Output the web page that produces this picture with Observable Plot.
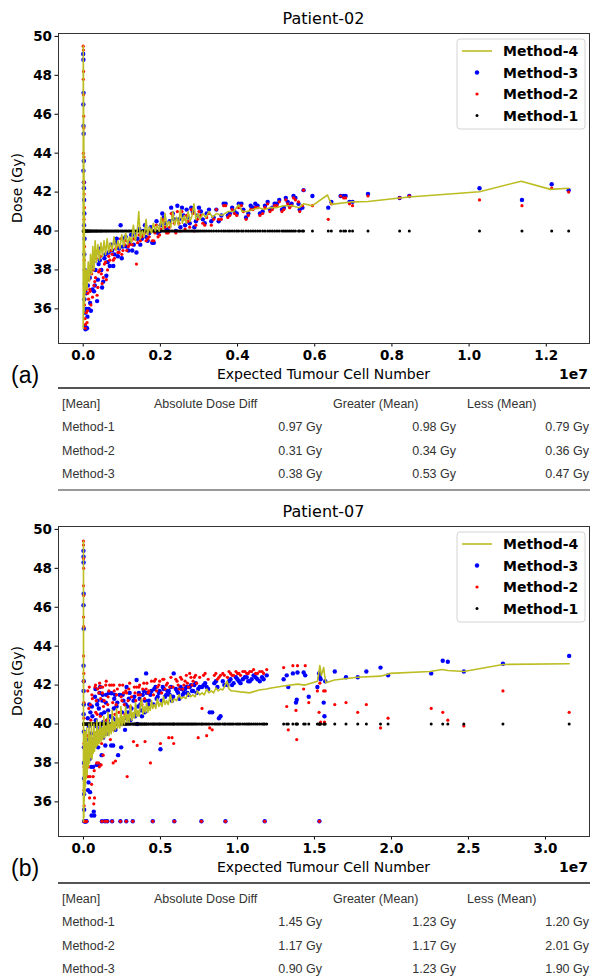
<!DOCTYPE html>
<html>
<head>
<meta charset="utf-8">
<script src="https://cdn.jsdelivr.net/npm/d3@7"></script>
<script src="https://cdn.jsdelivr.net/npm/@observablehq/plot@0.6"></script>
<style>
  html, body { margin: 0; padding: 0; background: #fff; }
  body { width: 593px; height: 978px; position: relative; overflow: hidden; font-family: "DejaVu Sans", sans-serif; }
  .panel { position: absolute; left: 0; width: 593px; }
  .tbl { position: absolute; left: 0; width: 593px; height: 110px; font-family: "Liberation Sans", Arial, sans-serif; font-size: 12.5px; color: #333; }
  .tbl span { position: absolute; white-space: nowrap; transform: translateY(-50%); line-height: 1; }
  .tbl .rule { position: absolute; left: 58px; width: 532px; }
</style>
</head>
<body>
<div id="panelA" class="panel" style="top:0px"></div>
<div id="tableA" class="tbl" style="top:388px"></div>
<div id="panelB" class="panel" style="top:494px"></div>
<div id="tableB" class="tbl" style="top:883px"></div>
<script>
// ---- Patient-02: expected tumour cell number (units of 1e7) and dose (Gy) per method ----
const p02Cells = [
  0.0000, 0.0005, 0.0010, 0.0003, 0.0008, 0.0012, 0.0015, 0.0006, 0.0018, 0.0020,
  0.0025, 0.0030, 0.0022, 0.0035, 0.0028, 0.0040, 0.0045, 0.0032, 0.0050, 0.0055,
  0.0060, 0.0100, 0.0080, 0.012, 0.015, 0.018, 0.022, 0.026, 0.030, 0.034,
  0.036, 0.040, 0.045, 0.049, 0.055, 0.060, 0.066, 0.072, 0.078, 0.084,
  0.090, 0.097, 0.103, 0.110, 0.117, 0.124, 0.131, 0.138, 0.145, 0.152,
  0.160, 0.167, 0.175, 0.183, 0.190, 0.198, 0.205, 0.212, 0.220, 0.228,
  0.236, 0.244, 0.252, 0.260, 0.268, 0.276, 0.284, 0.292, 0.300, 0.310,
  0.320, 0.332, 0.345, 0.358, 0.369, 0.380, 0.392, 0.403, 0.415, 0.428,
  0.440, 0.452, 0.465, 0.478, 0.490, 0.502, 0.515, 0.525, 0.535, 0.545,
  0.550, 0.558, 0.561, 0.568, 0.571, 0.594, 0.635, 0.643, 0.667, 0.675,
  0.680, 0.690, 0.698, 0.738, 0.820, 0.845, 1.027, 1.137, 1.214, 1.258,
  0.008, 0.011, 0.014, 0.017, 0.020, 0.024, 0.028, 0.032, 0.038, 0.043,
  0.047, 0.052, 0.058, 0.063, 0.069, 0.075, 0.081, 0.087, 0.093, 0.100,
  0.107, 0.113, 0.120, 0.127, 0.134, 0.141, 0.148, 0.156, 0.163, 0.171,
  0.179, 0.186, 0.194, 0.201, 0.209, 0.216, 0.224, 0.232, 0.240, 0.248,
  0.256, 0.264, 0.272, 0.280, 0.288, 0.296, 0.305, 0.315, 0.326, 0.338,
  0.351, 0.364, 0.375, 0.386, 0.398, 0.410, 0.422, 0.434, 0.446, 0.458,
  0.471, 0.484, 0.496, 0.508, 0.520, 0.530, 0.540
];
const p02Method3 = [
  49.1, 48.8, 47.1, 46.5, 45.4, 45.0, 43.6, 43.1, 42.5, 42.2,
  41.6, 40.9, 40.3, 39.6, 38.8, 38.0, 37.3, 36.5, 35.8, 35.1,
  34.95, 35.0, 36.0, 37.2, 37.9, 36.3, 38.2, 38.4, 37.2, 38.9,
  36.4, 38.3, 39.1, 37.1, 38.6, 37.7, 38.9, 39.3, 38.2, 39.4,
  38.7, 40.3, 39.2, 39.7, 39.0, 39.8, 39.3, 38.9, 40.1, 39.6,
  40.3, 39.5, 40.2, 39.4, 40.5, 40.0, 40.9, 40.4, 40.0, 41.2,
  40.6, 41.3, 40.2, 40.8, 41.1, 40.4, 41.0, 40.5, 41.2, 40.6,
  40.9, 40.5, 41.1, 40.8, 41.4, 40.9, 41.0, 41.4, 41.1, 40.9,
  41.2, 41.3, 41.0, 41.5, 41.2, 41.4, 41.1, 41.7, 41.3, 41.8,
  41.7, 41.4, 41.1, 41.2, 42.1, 41.8, 41.2, 41.5, 41.8, 41.8,
  41.8, 41.5, 41.5, 41.9, 41.7, 41.8, 42.2, 41.6, 42.4, 42.1,
  36.8, 35.6, 36.0, 37.6, 35.9, 37.0, 36.9, 38.0, 37.5, 38.5,
  38.0, 37.4, 38.8, 38.4, 38.2, 39.0, 38.8, 39.6, 39.1, 38.6,
  39.6, 39.2, 39.4, 39.0, 39.8, 39.6, 39.3, 40.0, 39.7, 39.9,
  39.4, 40.0, 39.9, 40.3, 40.7, 40.1, 40.5, 40.9, 40.0, 40.6,
  41.2, 40.3, 40.7, 41.2, 40.2, 40.8, 41.0, 40.4, 41.1, 40.7,
  40.5, 41.4, 40.8, 41.2, 40.9, 41.4, 40.7, 41.3, 41.4, 40.9,
  41.3, 41.1, 41.4, 41.6, 41.2, 41.5, 41.4
];
const p02Method2 = [
  49.5, 49.3, 48.2, 47.8, 47.0, 45.9, 45.3, 44.0, 43.8, 42.5,
  41.9, 41.2, 40.6, 39.2, 38.5, 37.6, 37.0, 36.2, 35.5, 35.0,
  35.2, 35.3, 35.8, 36.8, 37.5, 36.9, 37.8, 38.0, 37.4, 38.6,
  36.7, 37.9, 38.7, 37.3, 38.3, 37.5, 38.7, 39.0, 38.5, 39.1,
  38.9, 39.6, 39.0, 39.5, 39.2, 39.5, 39.6, 38.3, 39.8, 39.7,
  39.9, 39.6, 40.0, 39.5, 40.3, 39.8, 40.6, 40.2, 39.9, 40.9,
  40.4, 41.0, 40.0, 40.6, 40.8, 40.2, 40.9, 40.3, 41.0, 40.4,
  40.7, 40.3, 41.1, 40.6, 41.3, 40.8, 40.9, 41.2, 41.0, 40.8,
  41.1, 41.2, 40.9, 41.4, 41.1, 41.3, 41.0, 41.6, 41.2, 41.7,
  41.6, 41.5, 41.0, 41.3, 42.1, 41.3, 40.6, 41.4, 41.8, 41.7,
  41.7, 41.4, 41.3, 41.8, 41.7, 41.8, 41.6, 41.3, 42.2, 42.0,
  37.0, 35.9, 36.5, 37.0, 36.2, 36.6, 37.2, 37.6, 37.1, 38.0,
  37.8, 37.6, 38.4, 38.0, 38.5, 38.8, 38.6, 39.2, 38.9, 38.8,
  39.3, 39.0, 39.3, 39.3, 39.6, 39.4, 39.5, 39.8, 39.5, 39.7,
  39.5, 39.9, 39.7, 40.1, 40.5, 39.9, 40.2, 40.8, 39.9, 40.4,
  41.0, 40.1, 40.5, 41.1, 40.0, 40.6, 40.8, 40.3, 40.9, 40.6,
  40.6, 41.3, 40.7, 41.1, 40.8, 41.3, 40.6, 41.1, 41.2, 40.8,
  41.2, 41.0, 41.3, 41.5, 41.1, 41.4, 41.3
];
const p02Method1 = [
  40, 40, 40, 40, 40, 40, 40, 40, 40, 40,
  40, 40, 40, 40, 40, 40, 40, 40, 40, 40,
  40, 40, 40, 40, 40, 40, 40, 40, 40, 40,
  40, 40, 40, 40, 40, 40, 40, 40, 40, 40,
  40, 40, 40, 40, 40, 40, 40, 40, 40, 40,
  40, 40, 40, 40, 40, 40, 40, 40, 40, 40,
  40, 40, 40, 40, 40, 40, 40, 40, 40, 40,
  40, 40, 40, 40, 40, 40, 40, 40, 40, 40,
  40, 40, 40, 40, 40, 40, 40, 40, 40, 40,
  40, 40, 40, 40, 40, 40, 40, 40, 40, 40,
  40, 40, 40, 40, 40, 40, 40, 40, 40, 40,
  40, 40, 40, 40, 40, 40, 40, 40, 40, 40,
  40, 40, 40, 40, 40, 40, 40, 40, 40, 40,
  40, 40, 40, 40, 40, 40, 40, 40, 40, 40,
  40, 40, 40, 40, 40, 40, 40, 40, 40, 40,
  40, 40, 40, 40, 40, 40, 40, 40, 40, 40,
  40, 40, 40, 40, 40, 40, 40, 40, 40, 40,
  40, 40, 40, 40, 40, 40, 40
];
// Method-4 curve, ordered by cell number
const p02LineCells = [
  0.0000, 0.0002, 0.0004, 0.0006, 0.0008, 0.0010, 0.0013, 0.0016, 0.0019, 0.0022,
  0.0026, 0.0030, 0.0035, 0.0040, 0.005, 0.008, 0.010, 0.013, 0.016, 0.019,
  0.022, 0.025, 0.028, 0.031, 0.034, 0.038, 0.042, 0.046, 0.050, 0.054,
  0.058, 0.062, 0.066, 0.070, 0.075, 0.080, 0.085, 0.090, 0.095, 0.100,
  0.105, 0.110, 0.115, 0.120, 0.125, 0.130, 0.135, 0.140, 0.144, 0.148,
  0.153, 0.158, 0.163, 0.167, 0.172, 0.177, 0.182, 0.187, 0.192, 0.197,
  0.202, 0.207, 0.212, 0.217, 0.222, 0.227, 0.232, 0.237, 0.242, 0.247,
  0.252, 0.257, 0.262, 0.267, 0.272, 0.277, 0.282, 0.287, 0.292, 0.297,
  0.303, 0.310, 0.318, 0.326, 0.335, 0.345, 0.360, 0.375, 0.390, 0.403,
  0.412, 0.425, 0.440, 0.455, 0.470, 0.485, 0.500, 0.520, 0.540, 0.560,
  0.571, 0.594, 0.633, 0.643, 0.698, 0.738, 0.820, 0.845, 1.027, 1.135,
  1.211, 1.258
];
const p02Method4 = [
  35.0, 49.5, 36.0, 48.6, 35.4, 47.2, 36.6, 45.5, 35.8, 43.0,
  36.9, 41.0, 36.3, 39.0, 36.8, 38.0, 37.0, 38.4, 37.4, 38.8,
  37.8, 39.2, 38.0, 39.5, 38.4, 39.3, 38.5, 39.4, 38.7, 39.5,
  38.8, 39.6, 38.9, 39.4, 39.0, 39.7, 39.0, 39.5, 39.1, 39.8,
  39.2, 39.9, 39.3, 39.7, 39.4, 40.3, 39.5, 40.0, 41.0, 39.6,
  40.0, 39.7, 40.6, 39.8, 40.2, 39.9, 40.4, 40.0, 40.3, 40.0,
  40.7, 40.1, 40.9, 40.2, 40.5, 40.2, 41.0, 40.3, 40.7, 40.3,
  41.1, 40.4, 40.8, 40.4, 41.0, 40.5, 40.8, 41.4, 40.6, 40.9,
  40.6, 40.9, 40.7, 41.0, 40.7, 40.9, 40.8, 41.0, 41.0, 41.35,
  41.0, 41.0, 41.1, 41.2, 41.1, 41.2, 41.2, 41.3, 41.3, 41.2,
  41.4, 41.3, 41.85, 41.37, 41.5, 41.52, 41.7, 41.75, 42.02, 42.56,
  42.14, 42.2
];

// ---- Patient-07 ----
const p07Cells = [
  0.0000, 0.0004, 0.0008, 0.0012, 0.0003, 0.0016, 0.0006, 0.0020, 0.0010, 0.0024,
  0.0014, 0.0028, 0.0030, 0.0034, 0.0038, 0.0042, 0.0046, 0.0050, 0.0080, 0.0120,
  0.0160, 0.0200, 0.025, 0.030, 0.035, 0.040, 0.045, 0.050, 0.055, 0.060,
  0.067, 0.070, 0.075, 0.080, 0.086, 0.092, 0.098, 0.100, 0.105, 0.110,
  0.115, 0.120, 0.125, 0.130, 0.140, 0.145, 0.150, 0.155, 0.160, 0.170,
  0.180, 0.186, 0.190, 0.200, 0.208, 0.215, 0.225, 0.235, 0.240, 0.250,
  0.260, 0.270, 0.278, 0.280, 0.284, 0.295, 0.305, 0.320, 0.330, 0.340,
  0.349, 0.360, 0.370, 0.380, 0.392, 0.400, 0.407, 0.420, 0.435, 0.450,
  0.460, 0.475, 0.490, 0.500, 0.515, 0.530, 0.545, 0.560, 0.575, 0.586,
  0.590, 0.600, 0.615, 0.630, 0.645, 0.660, 0.675, 0.690, 0.705, 0.720,
  0.735, 0.745, 0.766, 0.770, 0.790, 0.810, 0.836, 0.850, 0.870, 0.890,
  0.905, 0.922, 0.935, 0.955, 0.975, 0.990, 1.010, 1.035, 1.060, 1.080,
  1.105, 1.130, 1.160, 1.177, 1.300, 1.320, 1.330, 1.360, 1.380, 1.385,
  1.390, 1.430, 1.440, 1.463, 1.519, 1.530, 1.532, 1.535, 1.540, 1.560,
  1.565, 1.570, 1.632, 1.705, 1.781, 1.837, 1.929, 1.978, 2.258, 2.333,
  2.366, 2.470, 2.724, 3.154,
  0.022, 0.028, 0.033, 0.038, 0.043, 0.048, 0.053, 0.058, 0.063, 0.072,
  0.078, 0.083, 0.089, 0.095, 0.103, 0.108, 0.112, 0.118, 0.123, 0.128,
  0.135, 0.142, 0.148, 0.158, 0.165, 0.175, 0.183, 0.193, 0.197, 0.205,
  0.212, 0.220, 0.230, 0.245, 0.255, 0.265, 0.275, 0.290, 0.300, 0.312,
  0.325, 0.335, 0.345, 0.355, 0.365, 0.375, 0.385, 0.397, 0.412, 0.425,
  0.442, 0.455, 0.468, 0.482, 0.495, 0.508, 0.522, 0.538, 0.554, 0.568,
  0.582, 0.608, 0.622, 0.638, 0.652, 0.668, 0.682, 0.698, 0.712, 0.728,
  0.755, 0.780, 0.800, 0.820, 0.860, 0.880, 0.915, 0.945, 0.965, 1.000,
  1.020, 1.048, 1.070, 1.092, 1.118, 1.145, 1.170, 1.190
];
const p07Method3 = [
  48.9, 48.6, 48.3, 46.7, 46.1, 44.9, 43.0, 42.2, 41.7, 41.0,
  40.5, 39.6, 38.8, 38.0, 37.2, 36.4, 35.6, 35.0, 35.0, 35.0,
  35.0, 35.0, 38.4, 36.6, 39.9, 38.2, 40.6, 37.8, 40.9, 39.2,
  35.5, 35.3, 41.4, 40.2, 37.9, 41.2, 39.6, 40.8, 41.6, 39.8,
  40.5, 35.0, 41.5, 40.1, 35.0, 41.1, 39.5, 35.0, 40.7, 41.6,
  38.9, 35.0, 40.3, 41.3, 39.7, 40.9, 38.4, 41.5, 35.0, 40.6,
  41.2, 39.7, 35.0, 41.9, 40.9, 41.3, 40.2, 35.0, 41.4, 40.5,
  40.0, 41.6, 41.0, 40.4, 41.7, 41.2, 42.6, 41.0, 41.5, 35.0,
  41.8, 41.3, 41.6, 38.7, 41.9, 41.4, 41.7, 41.5, 41.2, 42.6,
  35.0, 41.8, 41.6, 41.9, 41.5, 41.8, 41.6, 41.9, 41.7, 42.0,
  41.6, 41.8, 35.0, 41.9, 42.1, 41.8, 40.6, 42.1, 41.9, 40.4,
  42.2, 35.0, 42.0, 42.3, 42.1, 42.4, 42.2, 42.3, 42.4, 42.2,
  42.5, 42.3, 42.4, 35.0, 42.3, 42.5, 41.9, 42.6, 41.1, 41.25,
  42.65, 42.65, 42.5, 41.4, 41.9, 42.6, 35.0, 42.4, 42.3, 41.1,
  40.4, 42.2, 42.7, 42.4, 42.4, 42.7, 42.9, 42.5, 42.6, 43.25,
  43.2, 42.7, 43.1, 43.5,
  39.2, 40.3, 37.0, 41.0, 36.5, 39.5, 35.3, 40.4, 37.8, 39.0,
  41.8, 39.9, 41.0, 38.8, 37.9, 41.9, 40.0, 38.4, 41.2, 39.3,
  40.6, 38.9, 41.5, 40.2, 41.6, 40.4, 41.58, 38.9, 40.8, 41.5,
  40.2, 41.1, 40.0, 38.8, 41.5, 40.3, 41.0, 40.6, 41.6, 40.8,
  41.2, 40.4, 42.26, 40.9, 41.3, 40.7, 41.5, 40.6, 41.6, 41.2,
  41.7, 41.0, 41.9, 41.4, 41.7, 41.2, 41.8, 41.5, 41.7, 41.9,
  41.4, 41.7, 41.3, 41.8, 41.6, 41.9, 41.5, 42.0, 41.7, 42.1,
  41.9, 42.0, 41.9, 40.6, 42.2, 40.3, 42.0, 42.2, 42.0, 42.3,
  42.1, 42.4, 42.2, 42.3, 42.4, 42.2, 42.3, 42.5
];
const p07Method2 = [
  49.4, 49.2, 48.5, 48.0, 47.1, 46.6, 45.5, 45.0, 43.5, 42.6,
  42.2, 41.1, 40.3, 39.0, 37.8, 36.6, 35.8, 35.0, 35.0, 35.0,
  35.0, 35.0, 39.4, 37.3, 40.8, 36.2, 41.0, 38.6, 41.5, 40.0,
  35.9, 37.6, 41.9, 40.6, 38.0, 41.8, 38.0, 41.6, 42.1, 40.4,
  37.9, 35.0, 41.9, 40.9, 35.0, 42.0, 40.2, 35.0, 41.4, 42.0,
  39.7, 35.0, 41.1, 41.7, 38.1, 41.5, 40.0, 42.0, 35.0, 41.2,
  41.6, 40.5, 35.0, 41.6, 37.3, 41.8, 40.9, 35.0, 41.9, 41.2,
  38.9, 41.9, 41.5, 41.0, 42.1, 39.1, 41.8, 41.6, 38.0, 35.0,
  42.2, 41.7, 42.0, 39.0, 42.3, 41.8, 42.1, 41.9, 39.3, 39.0,
  35.0, 42.3, 42.0, 42.4, 41.8, 42.2, 42.1, 42.6, 42.0, 42.4,
  42.1, 39.3, 35.0, 40.8, 42.6, 42.3, 39.7, 42.5, 42.3, 42.5,
  42.6, 35.0, 42.4, 42.6, 42.5, 42.7, 42.6, 42.7, 42.6, 42.7,
  42.8, 42.6, 42.7, 35.0, 42.9, 40.9, 39.7, 43.0, 40.7, 39.2,
  43.0, 41.8, 43.0, 41.1, 41.7, 40.6, 35.0, 42.1, 40.1, 41.7,
  40.1, 41.7, 41.0, 41.1, 40.6, 41.0, 39.8, 40.3, 40.8, 40.6,
  40.2, 39.9, 41.7, 40.6,
  38.4, 41.7, 37.8, 41.9, 37.3, 40.2, 36.9, 41.3, 37.3, 36.2,
  42.0, 41.2, 40.5, 39.4, 37.8, 41.9, 41.3, 39.0, 41.6, 38.4,
  41.2, 39.6, 42.2, 41.0, 41.7, 39.2, 42.0, 38.0, 42.0, 40.5,
  41.0, 41.8, 40.6, 41.4, 42.0, 41.0, 41.7, 41.2, 42.1, 41.4,
  39.1, 41.6, 41.9, 41.5, 42.0, 41.2, 41.8, 41.3, 42.1, 41.7,
  42.2, 41.5, 42.3, 41.9, 42.2, 41.6, 42.3, 42.0, 39.3, 42.4,
  41.9, 42.2, 41.8, 42.3, 42.0, 42.5, 41.9, 42.4, 42.2, 42.5,
  42.4, 42.5, 39.4, 39.8, 42.6, 42.4, 42.5, 42.7, 42.5, 42.6,
  42.5, 42.7, 42.6, 42.7, 42.6, 42.7, 42.6, 42.8
];
const p07Method1 = [
  40, 40, 40, 40, 40, 40, 40, 40, 40, 40,
  40, 40, 40, 40, 40, 40, 40, 40, 40, 40,
  40, 40, 40, 40, 40, 40, 40, 40, 40, 40,
  40, 40, 40, 40, 40, 40, 40, 40, 40, 40,
  40, 40, 40, 40, 40, 40, 40, 40, 40, 40,
  40, 40, 40, 40, 40, 40, 40, 40, 40, 40,
  40, 40, 40, 40, 40, 40, 40, 40, 40, 40,
  40, 40, 40, 40, 40, 40, 40, 40, 40, 40,
  40, 40, 40, 40, 40, 40, 40, 40, 40, 40,
  40, 40, 40, 40, 40, 40, 40, 40, 40, 40,
  40, 40, 40, 40, 40, 40, 40, 40, 40, 40,
  40, 40, 40, 40, 40, 40, 40, 40, 40, 40,
  40, 40, 40, 40, 40, 40, 40, 40, 40, 40,
  40, 40, 40, 40, 40, 40, 40, 40, 40, 40,
  40, 40, 40, 40, 40, 40, 40, 40, 40, 40,
  40, 40, 40, 40,
  40, 40, 40, 40, 40, 40, 40, 40, 40, 40,
  40, 40, 40, 40, 40, 40, 40, 40, 40, 40,
  40, 40, 40, 40, 40, 40, 40, 40, 40, 40,
  40, 40, 40, 40, 40, 40, 40, 40, 40, 40,
  40, 40, 40, 40, 40, 40, 40, 40, 40, 40,
  40, 40, 40, 40, 40, 40, 40, 40, 40, 40,
  40, 40, 40, 40, 40, 40, 40, 40, 40, 40,
  40, 40, 40, 40, 40, 40, 40, 40, 40, 40,
  40, 40, 40, 40, 40, 40, 40, 40
];
const p07LineCells = [
  0.0000, 0.0002, 0.0004, 0.0007, 0.0010, 0.0014, 0.0018, 0.0024, 0.0030, 0.0040,
  0.0050, 0.0070, 0.0090, 0.0110, 0.0130, 0.0150, 0.018, 0.021, 0.024, 0.028,
  0.032, 0.036, 0.040, 0.044, 0.048, 0.052, 0.056, 0.060, 0.064, 0.068,
  0.072, 0.077, 0.082, 0.087, 0.092, 0.097, 0.102, 0.108, 0.114, 0.120,
  0.126, 0.132, 0.138, 0.145, 0.152, 0.159, 0.166, 0.173, 0.180, 0.187,
  0.194, 0.201, 0.208, 0.215, 0.222, 0.229, 0.236, 0.243, 0.250, 0.258,
  0.266, 0.274, 0.282, 0.290, 0.298, 0.306, 0.314, 0.322, 0.330, 0.338,
  0.346, 0.354, 0.362, 0.370, 0.378, 0.386, 0.394, 0.402, 0.410, 0.418,
  0.426, 0.434, 0.442, 0.450, 0.460, 0.470, 0.480, 0.490, 0.500, 0.510,
  0.520, 0.530, 0.540, 0.550, 0.565, 0.575, 0.590, 0.605, 0.620, 0.635,
  0.650, 0.665, 0.680, 0.695, 0.710, 0.725, 0.740, 0.755, 0.770, 0.785,
  0.800, 0.815, 0.830, 0.845, 0.860, 0.875, 0.890, 0.905, 0.920, 0.933,
  0.945, 0.960, 0.976, 1.020, 1.080, 1.140, 1.190, 1.210, 1.300, 1.390,
  1.440, 1.520, 1.535, 1.545, 1.560, 1.565, 1.575, 1.630, 1.780, 1.930,
  1.990, 2.250, 2.330, 2.366, 2.470, 2.724, 3.154
];
const p07Method4 = [
  35.0, 49.4, 44.7, 45.2, 36.0, 40.0, 35.5, 38.5, 35.2, 39.5,
  36.0, 38.8, 36.4, 39.6, 36.8, 38.6, 37.2, 39.8, 37.4, 39.0,
  37.8, 40.0, 38.0, 39.4, 38.3, 40.1, 38.2, 39.2, 38.5, 40.0,
  38.6, 39.6, 38.8, 40.2, 38.9, 39.7, 39.0, 40.1, 39.1, 39.8,
  39.2, 40.4, 39.3, 39.9, 39.4, 40.6, 39.4, 40.0, 39.5, 40.7,
  39.6, 40.1, 39.7, 40.8, 39.8, 40.3, 39.8, 40.9, 39.9, 40.4,
  40.0, 40.9, 40.1, 40.5, 40.1, 41.0, 40.2, 40.6, 40.3, 41.1,
  40.4, 40.7, 40.4, 41.0, 41.3, 40.5, 40.9, 40.6, 41.1, 40.6,
  40.9, 40.7, 41.2, 40.8, 41.0, 40.8, 41.3, 40.9, 41.1, 40.9,
  41.4, 41.0, 41.2, 41.0, 41.5, 41.1, 41.3, 41.2, 41.5, 41.3,
  41.4, 41.3, 41.6, 41.4, 41.5, 41.4, 41.7, 41.5, 41.6, 41.5,
  41.8, 41.6, 41.7, 41.6, 41.85, 41.7, 41.8, 41.75, 42.0, 42.2,
  41.8, 41.7, 41.7, 41.65, 41.6, 41.75, 41.8, 41.84, 41.95, 42.05,
  42.0, 42.2, 43.0, 42.5, 42.9, 42.55, 42.12, 42.26, 42.4, 42.46,
  42.6, 42.7, 42.8, 42.75, 42.7, 43.06, 43.1
];

// ---- summary tables ----
const summaryColumns = ["[Mean]", "Absolute Dose Diff", "Greater (Mean)", "Less (Mean)"];
const summaryMethods = ["Method-1", "Method-2", "Method-3"];
const p02AbsDiff = [0.97, 0.31, 0.38];
const p02Greater = [0.98, 0.34, 0.53];
const p02Less = [0.79, 0.36, 0.47];
const p07AbsDiff = [1.45, 1.17, 0.90];
const p07Greater = [1.23, 1.17, 1.23];
const p07Less = [1.20, 2.01, 1.90];

const doseTicks = [36, 38, 40, 42, 44, 46, 48, 50];
const p02CellTicks = [0, 0.2, 0.4, 0.6, 0.8, 1.0, 1.2];
const p07CellTicks = [0, 0.5, 1.0, 1.5, 2.0, 2.5, 3.0];

const methodStyles = [
  {label: "Method-4", kind: "line", color: "#bcbd22"},
  {label: "Method-3", kind: "dot", color: "blue", r: 2.2},
  {label: "Method-2", kind: "dot", color: "red", r: 1.6},
  {label: "Method-1", kind: "dot", color: "black", r: 1.5}
];

function drawPanel(cfg) {
  const W = 593, H = 392, FT = cfg.frameTop, FH = 310, ML = 58, MR = 4;
  const pts = cfg.cells.map((c, i) => ({c, m1: cfg.m1[i], m2: cfg.m2[i], m3: cfg.m3[i]}));
  const curve = cfg.lineCells.map((c, i) => ({c, d: cfg.m4[i]}));
  const fmt = d3.format(".1f");
  const svg = Plot.plot({
    width: W, height: H,
    marginTop: FT, marginBottom: H - FT - FH, marginLeft: ML, marginRight: MR,
    style: {fontFamily: "DejaVu Sans, sans-serif", fontSize: "13.5px", color: "#000", background: "#fff", overflow: "visible"},
    x: {domain: cfg.xDomain},
    y: {domain: [34.22, 50.15]},
    marks: [
      Plot.dot(pts, {x: "c", y: "m3", r: 2.2, fill: "blue"}),
      Plot.dot(pts, {x: "c", y: "m2", r: 1.6, fill: "red"}),
      Plot.dot(pts, {x: "c", y: "m1", r: 1.5, fill: "black"}),
      Plot.line(curve, {x: "c", y: "d", stroke: "#bcbd22", strokeWidth: 1.6}),
      Plot.axisX({ticks: cfg.xTicks, tickFormat: fmt, tickSize: 3.5, tickPadding: 3.5, fontWeight: "bold", label: null}),
      Plot.axisY({ticks: doseTicks, tickSize: 3.5, tickPadding: 3, fontWeight: "bold", label: null}),
      Plot.frame({stroke: "#333", strokeWidth: 1})
    ]
  });
  const s = d3.select(svg);
  const FB = FT + FH;
  const cx = ML + (W - ML - MR) / 2;
  s.append("text").attr("x", cx).attr("y", FT - 9).attr("text-anchor", "middle")
    .attr("font-size", 16).attr("fill", "#000").text(cfg.title);
  s.append("text").attr("transform", `translate(18,${FT + FH / 2}) rotate(-90)`)
    .attr("text-anchor", "middle").attr("dominant-baseline", "middle")
    .attr("font-size", 14).attr("fill", "#000").text("Dose (Gy)");
  s.append("text").attr("x", cx).attr("y", FB + 36).attr("text-anchor", "middle")
    .attr("font-size", 14).attr("fill", "#000").text("Expected Tumour Cell Number");
  s.append("text").attr("x", W - MR - 1).attr("y", FB + 36).attr("text-anchor", "end")
    .attr("font-size", 14).attr("font-weight", "bold").attr("fill", "#000").text("1e7");
  s.append("text").attr("x", 11).attr("y", FB + 40).attr("text-anchor", "start")
    .attr("font-family", "Liberation Sans, Arial, sans-serif")
    .attr("font-size", 23).attr("fill", "#000").text(cfg.tag);

  const lg = s.append("g").attr("transform", `translate(457,${FT + 6})`);
  lg.append("rect").attr("width", 128).attr("height", 90).attr("rx", 3)
    .attr("fill", "#fff").attr("fill-opacity", 0.85).attr("stroke", "#d4d4d4");
  methodStyles.forEach((m, i) => {
    const y = 12 + i * 21.5;
    if (m.kind === "line") {
      lg.append("line").attr("x1", 5).attr("x2", 35).attr("y1", y).attr("y2", y)
        .attr("stroke", m.color).attr("stroke-width", 1.6);
    } else {
      lg.append("circle").attr("cx", 20).attr("cy", y).attr("r", m.r).attr("fill", m.color);
    }
    lg.append("text").attr("x", 46).attr("y", y).attr("text-anchor", "start")
      .attr("dominant-baseline", "central")
      .attr("font-size", 14).attr("font-weight", "bold").attr("fill", "#000").text(m.label);
  });
  document.getElementById(cfg.target).appendChild(svg);
}

function drawTable(target, abs, greater, less, withBottom) {
  const el = d3.select("#" + target);
  el.append("div").attr("class", "rule").style("top", "-1px").style("height", "2px").style("background", "#555");
  const headerX = [62, 154, 333, 467];
  summaryColumns.forEach((h, i) => {
    el.append("span").style("left", headerX[i] + "px").style("top", "16px").text(h);
  });
  const rightEdges = [322, 456, 589];
  summaryMethods.forEach((m, r) => {
    const y = 39 + r * 23.5;
    el.append("span").style("left", "62px").style("top", y + "px").text(m);
    [abs[r], greater[r], less[r]].forEach((v, j) => {
      el.append("span").style("right", (593 - rightEdges[j]) + "px").style("top", y + "px")
        .text(v.toFixed(2) + " Gy");
    });
  });
  if (withBottom) {
    el.append("div").attr("class", "rule").style("top", "101px").style("height", "1.5px").style("background", "#999");
  }
}

drawPanel({target: "panelA", title: "Patient-02", tag: "(a)", frameTop: 33,
  cells: p02Cells, m1: p02Method1, m2: p02Method2, m3: p02Method3,
  lineCells: p02LineCells, m4: p02Method4, xDomain: [-0.064, 1.312], xTicks: p02CellTicks});
drawPanel({target: "panelB", title: "Patient-07", tag: "(b)", frameTop: 32,
  cells: p07Cells, m1: p07Method1, m2: p07Method2, m3: p07Method3,
  lineCells: p07LineCells, m4: p07Method4, xDomain: [-0.162, 3.286], xTicks: p07CellTicks});
drawTable("tableA", p02AbsDiff, p02Greater, p02Less, true);
drawTable("tableB", p07AbsDiff, p07Greater, p07Less, false);
</script>
</body>
</html>
